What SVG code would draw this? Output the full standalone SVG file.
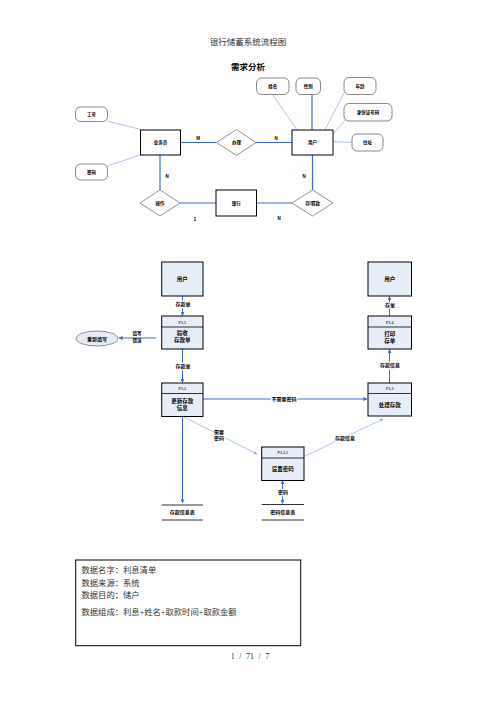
<svg xmlns="http://www.w3.org/2000/svg" width="496" height="702" viewBox="0 0 496 702">
<defs>
<style>
.t{font-family:"Liberation Sans","Noto Sans CJK SC",sans-serif;font-weight:bold;fill:#000;text-anchor:middle}
.s{font-family:"Liberation Serif","Noto Sans CJK SC",serif;fill:#333}
.ent{fill:#fff;stroke:#000;stroke-width:1}
.att{fill:#fff;stroke:#555;stroke-width:0.7}
.rel{fill:#fff;stroke:#666;stroke-width:0.7}
.proc{fill:#e8eef8;stroke:#000;stroke-width:1}
.lb{stroke:#3a6fd0;stroke-width:1.2;fill:none}
.ll{stroke:#8aaee8;stroke-width:0.7;fill:none}
.fl{stroke:#3a6fd0;stroke-width:1;fill:none}
.fd{stroke:#8aaee8;stroke-width:0.7;fill:none}
.h{paint-order:stroke;stroke:#fff;stroke-width:2}
</style>
<marker id="ar" viewBox="0 0 10 10" refX="9" refY="5" markerWidth="4" markerHeight="4" orient="auto-start-reverse">
<path d="M0,0L10,5L0,10z" fill="#3a6fd0"/>
</marker>
<marker id="arl" viewBox="0 0 10 10" refX="9" refY="5" markerWidth="5" markerHeight="5" orient="auto">
<path d="M0,0L10,5L0,10z" fill="#8aaee8"/>
</marker>
</defs>

<text class="s" x="248" y="44.5" font-size="8.5" text-anchor="middle" fill="#555">银行储蓄系统流程图</text>
<text class="t" x="248" y="70" font-size="8.5">需求分析</text>

<g id="er-connectors">
<line class="ll" x1="107" y1="121" x2="143" y2="130"/>
<line class="ll" x1="107" y1="166" x2="140" y2="155"/>
<line class="ll" x1="273" y1="95" x2="297" y2="130"/>
<line class="lb" x1="312" y1="95" x2="312" y2="130"/>
<line class="ll" x1="344" y1="93" x2="325" y2="130"/>
<line class="ll" x1="345" y1="120" x2="333" y2="134"/>
<line class="ll" x1="333" y1="141.5" x2="352" y2="142.5"/>
<line class="lb" x1="180" y1="142.5" x2="216.5" y2="142.5"/>
<line class="lb" x1="256" y1="142.5" x2="292" y2="142.5"/>
<line class="lb" x1="160" y1="155" x2="160" y2="190"/>
<line class="lb" x1="180" y1="203" x2="216" y2="203"/>
<line class="lb" x1="256.5" y1="203" x2="292" y2="203"/>
<line class="lb" x1="312.5" y1="155" x2="312.5" y2="190"/>
<text class="t" x="198" y="140" font-size="4.5">M</text>
<text class="t" x="276" y="140" font-size="4.5">N</text>
<text class="t" x="167" y="178" font-size="4.5">N</text>
<text class="t" x="304" y="178" font-size="4.5">N</text>
<text class="t" x="195" y="221" font-size="5">1</text>
<text class="t" x="279" y="220" font-size="4.5">N</text>
</g>

<g id="yewuyuan"><rect class="ent" x="140.5" y="130" width="40" height="25"/><text class="t" x="160.5" y="144" font-size="4.5">业务员</text></g>
<g id="banli"><polygon class="rel" points="216.5,142.5 236.5,129.5 256,142.5 236.5,155.5"/><text class="t" x="236.5" y="144" font-size="4.5">办理</text></g>
<g id="yonghu-er"><rect class="ent" x="292" y="130" width="41" height="25"/><text class="t" x="312.5" y="144" font-size="4.5">用户</text></g>
<g id="xingming"><rect class="att" x="256.5" y="78" width="32.5" height="16.5" rx="5"/><text class="t" x="272.7" y="87.8" font-size="4.5">姓名</text></g>
<g id="xingbie"><rect class="att" x="296" y="78" width="24.5" height="16.5" rx="5"/><text class="t" x="308.2" y="87.8" font-size="4.5">性别</text></g>
<g id="nianling"><rect class="att" x="344" y="77.5" width="32" height="17" rx="5"/><text class="t" x="360" y="87.5" font-size="4.5">年龄</text></g>
<g id="shenfenzheng"><rect class="att" x="344" y="103.5" width="48" height="17.5" rx="5"/><text class="t" x="368" y="114" font-size="4.5">身份证号码</text></g>
<g id="zhuzhi"><rect class="att" x="352" y="134" width="31" height="17" rx="5"/><text class="t" x="367.5" y="144" font-size="4.5">住址</text></g>
<g id="gonghao"><rect class="att" x="75.5" y="107" width="32" height="14.5" rx="5"/><text class="t" x="91.5" y="116" font-size="4.5">工号</text></g>
<g id="mima-er"><rect class="att" x="75.5" y="164" width="32" height="16" rx="5"/><text class="t" x="91.5" y="173.5" font-size="4.5">密码</text></g>
<g id="caozuo"><polygon class="rel" points="140,203 160,190 180,203 160,216"/><text class="t" x="160" y="204.5" font-size="4.5">操作</text></g>
<g id="yinhang"><rect class="ent" x="216" y="190" width="40.5" height="26"/><text class="t" x="236.2" y="204.5" font-size="4.5">银行</text></g>
<g id="cunqukuan"><polygon class="rel" points="292,203 312.5,190 333,203 312.5,216"/><text class="t" x="312.5" y="204.5" font-size="4.5">存/取款</text></g>

<g id="dfd-connectors">
<line class="fl" x1="182.5" y1="296" x2="182.5" y2="315.5" marker-end="url(#ar)"/>
<text class="t h" x="183" y="305.5" font-size="5">存款单</text>
<line class="fl" x1="156" y1="338" x2="119" y2="338" marker-end="url(#ar)"/>
<text class="t" x="137" y="335" font-size="4.5">填写</text>
<text class="t" x="137" y="341.5" font-size="4.5">错误</text>
<line class="fl" x1="182.5" y1="349" x2="182.5" y2="382.5" marker-end="url(#ar)"/>
<text class="t h" x="183" y="367.5" font-size="5">存款单</text>
<line class="fl" x1="203" y1="399" x2="367" y2="399" marker-end="url(#ar)"/>
<text class="t h" x="284" y="400.5" font-size="5">不需要密码</text>
<line class="fl" x1="389.5" y1="383" x2="389.5" y2="349.5" marker-end="url(#ar)"/>
<text class="t h" x="390" y="367" font-size="5">存款信息</text>
<line class="fl" x1="389.5" y1="316" x2="389.5" y2="296.5" marker-end="url(#ar)"/>
<text class="t h" x="390" y="307" font-size="5">存单</text>
<line class="fd" x1="183" y1="416.5" x2="257" y2="454" marker-end="url(#arl)"/>
<text class="t h" x="219" y="433.5" font-size="5">需要</text>
<text class="t h" x="219" y="440" font-size="5">密码</text>
<line class="fd" x1="304" y1="456.5" x2="383" y2="419" marker-end="url(#arl)"/>
<text class="t h" x="345" y="439.5" font-size="5">存款信息</text>
<line class="fl" x1="282.5" y1="480.5" x2="282.5" y2="503.5" marker-start="url(#ar)" marker-end="url(#ar)"/>
<text class="t h" x="283" y="493.5" font-size="5">密码</text>
<line class="fl" x1="182.5" y1="416.5" x2="182.5" y2="503" marker-end="url(#ar)"/>
</g>

<g id="yonghu-l"><rect class="proc" x="161.7" y="262" width="41.3" height="34"/><text class="t" x="182.3" y="281" font-size="5.5">用户</text></g>
<g id="p11"><rect class="proc" x="161.7" y="316" width="41.3" height="33"/><line x1="161.7" y1="327" x2="203" y2="327" stroke="#000" stroke-width="0.8"/><text class="s" x="182.3" y="323.5" font-size="4" text-anchor="middle" fill="#000" font-weight="bold">P1.1</text><text class="t" x="182.3" y="335" font-size="5.5">验收</text><text class="t" x="182.3" y="342" font-size="5.5">存款单</text></g>
<g id="chongxin"><ellipse cx="97" cy="338.5" rx="21" ry="7.5" fill="#e6ecf5" stroke="#666" stroke-width="0.7"/><text class="t" x="97" y="340.5" font-size="5">重新填写</text></g>
<g id="p12"><rect class="proc" x="161.7" y="383" width="41.3" height="33.5"/><line x1="161.7" y1="393.5" x2="203" y2="393.5" stroke="#000" stroke-width="0.8"/><text class="s" x="182.3" y="390" font-size="4" text-anchor="middle" fill="#000" font-weight="bold">P1.2</text><text class="t" x="182.3" y="402.5" font-size="5.5">更新存款</text><text class="t" x="182.3" y="409.5" font-size="5.5">信息</text></g>
<g id="yonghu-r"><rect class="proc" x="368" y="262" width="43.5" height="34"/><text class="t" x="389.7" y="281" font-size="5.5">用户</text></g>
<g id="p14"><rect class="proc" x="368" y="316" width="43.5" height="33"/><line x1="368" y1="327" x2="411.5" y2="327" stroke="#000" stroke-width="0.8"/><text class="s" x="389.7" y="323.5" font-size="4" text-anchor="middle" fill="#000" font-weight="bold">P1.4</text><text class="t" x="389.7" y="336" font-size="5.5">打印</text><text class="t" x="389.7" y="343" font-size="5.5">存单</text></g>
<g id="p13"><rect class="proc" x="368" y="383" width="43.5" height="33"/><line x1="368" y1="393.5" x2="411.5" y2="393.5" stroke="#000" stroke-width="0.8"/><text class="s" x="389.7" y="390" font-size="4" text-anchor="middle" fill="#000" font-weight="bold">P1.3</text><text class="t" x="389.7" y="407" font-size="5.5">处理存款</text></g>
<g id="p121"><rect class="proc" x="261.7" y="447" width="42.3" height="33.5"/><line x1="261.7" y1="458" x2="304" y2="458" stroke="#000" stroke-width="0.8"/><text class="s" x="282.8" y="454" font-size="4" text-anchor="middle" fill="#000" font-weight="bold">P1.2.1</text><text class="t" x="282.8" y="471" font-size="5.5">设置密码</text></g>
<g id="cunkuanbiao"><line x1="161.7" y1="505" x2="203" y2="505" stroke="#000" stroke-width="0.8"/><line x1="161.7" y1="520" x2="203" y2="520" stroke="#000" stroke-width="0.8"/><text class="t" x="182.3" y="514" font-size="5">存款信息表</text></g>
<g id="mimabiao"><line x1="261.7" y1="504.5" x2="304" y2="504.5" stroke="#000" stroke-width="0.8"/><line x1="261.7" y1="520" x2="304" y2="520" stroke="#000" stroke-width="0.8"/><text class="t" x="282.8" y="514" font-size="5">密码信息表</text></g>

<g id="dictionary">
<rect x="75.7" y="560" width="225" height="85.7" fill="#fff" stroke="#000" stroke-width="1"/>
<text class="s" x="81.5" y="573" font-size="8.3" fill="#444">数据名字：利息清单</text>
<text class="s" x="81.5" y="586" font-size="8.3" fill="#444">数据来源：系统</text>
<text class="s" x="81.5" y="598" font-size="8.3" fill="#444">数据目的：储户</text>
<text class="s" x="81.5" y="614.5" font-size="8.3" fill="#444">数据组成：利息+姓名+取款时间+取款金额</text>
</g>
<text class="s" x="250" y="659" font-size="8" text-anchor="middle" fill="#222" word-spacing="2.5">1 / 71 / 7</text>
</svg>
